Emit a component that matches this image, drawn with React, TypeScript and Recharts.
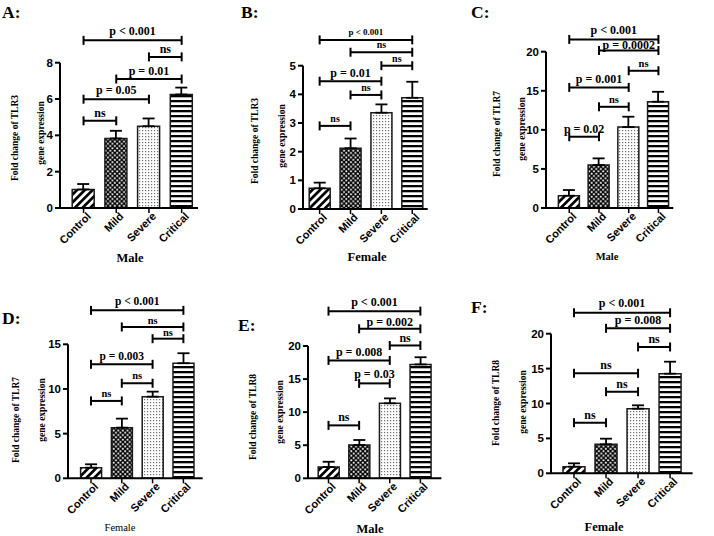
import React from 'react';
import { BarChart, Bar, XAxis, YAxis, Cell, ErrorBar, ReferenceLine } from 'recharts';

const SANS = "'Liberation Sans', Arial, sans-serif";
const SERIF = "'Liberation Serif', 'Times New Roman', serif";

// ---------- data ----------
const categories = ['Control', 'Mild', 'Severe', 'Critical'];

const tlr3MaleMean = [1.02, 3.83, 4.5, 6.25];
const tlr3MaleSem = [0.3, 0.42, 0.43, 0.38];
const tlr3FemaleMean = [0.72, 2.12, 3.36, 3.88];
const tlr3FemaleSem = [0.2, 0.34, 0.29, 0.56];
const tlr7MaleMean = [1.57, 5.5, 10.36, 13.6];
const tlr7MaleSem = [0.73, 0.85, 1.32, 1.27];
const tlr7FemaleMean = [1.19, 5.67, 9.14, 12.88];
const tlr7FemaleSem = [0.38, 1.01, 0.56, 1.12];
const tlr8MaleMean = [1.7, 5.03, 11.33, 17.22];
const tlr8MaleSem = [0.8, 0.76, 0.75, 1.08];
const tlr8FemaleMean = [0.95, 4.15, 9.26, 14.27];
const tlr8FemaleSem = [0.48, 0.81, 0.48, 1.72];

const ticks8 = [0, 2, 4, 6, 8];
const ticks5 = [0, 1, 2, 3, 4, 5];
const ticks15 = [0, 5, 10, 15];
const ticks20 = [0, 5, 10, 15, 20];

type Bracket = { from: string; to: string; y: number; label: string };

const bracketsA: Bracket[] = [
  { from: 'Control', to: 'Critical', y: 9.23, label: 'p < 0.001' },
  { from: 'Severe', to: 'Critical', y: 8.32, label: 'ns' },
  { from: 'Mild', to: 'Critical', y: 7.1, label: 'p = 0.01' },
  { from: 'Control', to: 'Severe', y: 5.99, label: 'p = 0.05' },
  { from: 'Control', to: 'Mild', y: 4.8, label: 'ns' },
];
const bracketsB: Bracket[] = [
  { from: 'Control', to: 'Critical', y: 5.9, label: 'p < 0.001' },
  { from: 'Mild', to: 'Critical', y: 5.47, label: 'ns' },
  { from: 'Severe', to: 'Critical', y: 5.0, label: 'ns' },
  { from: 'Control', to: 'Severe', y: 4.46, label: 'p = 0.01' },
  { from: 'Mild', to: 'Severe', y: 3.98, label: 'ns' },
  { from: 'Control', to: 'Mild', y: 2.9, label: 'ns' },
];
const bracketsC: Bracket[] = [
  { from: 'Control', to: 'Critical', y: 21.57, label: 'p < 0.001' },
  { from: 'Mild', to: 'Critical', y: 20.15, label: 'p = 0.0002' },
  { from: 'Severe', to: 'Critical', y: 17.56, label: 'ns' },
  { from: 'Control', to: 'Severe', y: 15.43, label: 'p = 0.001' },
  { from: 'Mild', to: 'Severe', y: 12.95, label: 'ns' },
  { from: 'Control', to: 'Mild', y: 9.12, label: 'p = 0.02' },
];
const bracketsD: Bracket[] = [
  { from: 'Control', to: 'Critical', y: 18.8, label: 'p < 0.001' },
  { from: 'Mild', to: 'Critical', y: 16.94, label: 'ns' },
  { from: 'Severe', to: 'Critical', y: 15.63, label: 'ns' },
  { from: 'Control', to: 'Severe', y: 12.76, label: 'p = 0.003' },
  { from: 'Mild', to: 'Severe', y: 10.64, label: 'ns' },
  { from: 'Control', to: 'Mild', y: 8.66, label: 'ns' },
];
const bracketsE: Bracket[] = [
  { from: 'Control', to: 'Critical', y: 25.27, label: 'p < 0.001' },
  { from: 'Mild', to: 'Critical', y: 22.6, label: 'p = 0.002' },
  { from: 'Severe', to: 'Critical', y: 20.08, label: 'ns' },
  { from: 'Control', to: 'Severe', y: 17.82, label: 'p = 0.008' },
  { from: 'Mild', to: 'Severe', y: 14.35, label: 'p = 0.03' },
  { from: 'Control', to: 'Mild', y: 8.0, label: 'ns' },
];
const bracketsF: Bracket[] = [
  { from: 'Control', to: 'Critical', y: 23.0, label: 'p < 0.001' },
  { from: 'Mild', to: 'Critical', y: 20.77, label: 'p = 0.008' },
  { from: 'Severe', to: 'Critical', y: 18.1, label: 'ns' },
  { from: 'Control', to: 'Severe', y: 14.33, label: 'ns' },
  { from: 'Mild', to: 'Severe', y: 11.69, label: 'ns' },
  { from: 'Control', to: 'Mild', y: 7.25, label: 'ns' },
];

// ---------- styles / layout ----------
const fills = ['url(#pDiag)', 'url(#pCheck)', 'url(#pDots)', 'url(#pHStripe)'];

type Geom = {
  boxTop: number; plotLeft: number; plotRight: number; plotTop: number; plotBottom: number;
  padL: number; padR: number; barSize: number;
};

type PanelCfg = {
  letter: string; letterX: number; letterY: number;
  gene: string; sex: string;
  means: number[]; sems: number[]; brackets: Bracket[];
  yMax: number; yTicks: number[];
  geom: Geom;
  labelSizes: number[]; labelOffsets: number[];
  yl1: [number, number]; yl2: [number, number];
  title: [number, number]; titleSize: number; titleBold: boolean;
};

const panels: PanelCfg[] = [
  {
    letter: 'A:', letterX: 2, letterY: 18, gene: 'TLR3', sex: 'Male',
    means: tlr3MaleMean, sems: tlr3MaleSem, brackets: bracketsA, yMax: 8, yTicks: ticks8,
    geom: { boxTop: 0, plotLeft: 60, plotRight: 198, plotTop: 62.7, plotBottom: 208, padL: 7.2, padR: 0, barSize: 22 },
    labelSizes: [12, 12, 12, 12, 12], labelOffsets: [5, 4, 4, 5, 4],
    yl1: [15, 138], yl2: [41, 133], title: [130, 262], titleSize: 12.5, titleBold: true,
  },
  {
    letter: 'B:', letterX: 241, letterY: 18, gene: 'TLR3', sex: 'Female',
    means: tlr3FemaleMean, sems: tlr3FemaleSem, brackets: bracketsB, yMax: 5, yTicks: ticks5,
    geom: { boxTop: 0, plotLeft: 303.3, plotRight: 428, plotTop: 65.7, plotBottom: 209, padL: 1.2, padR: 0, barSize: 21 },
    labelSizes: [9, 10, 10, 12, 10, 10], labelOffsets: [5, 4, 4, 4, 4, 4],
    yl1: [255, 141], yl2: [282, 136], title: [367, 261], titleSize: 12.5, titleBold: true,
  },
  {
    letter: 'C:', letterX: 471, letterY: 18, gene: 'TLR7', sex: 'Male',
    means: tlr7MaleMean, sems: tlr7MaleSem, brackets: bracketsC, yMax: 20, yTicks: ticks20,
    geom: { boxTop: 0, plotLeft: 545.7, plotRight: 673, plotTop: 51.7, plotBottom: 208, padL: 8.4, padR: 0, barSize: 21 },
    labelSizes: [12, 12, 10.5, 12, 10.5, 12], labelOffsets: [5, 1.5, 4, 4.5, 4, 4],
    yl1: [497, 134], yl2: [522, 129], title: [607, 260], titleSize: 10.5, titleBold: true,
  },
  {
    letter: 'D:', letterX: 2, letterY: 324, gene: 'TLR7', sex: 'Female',
    means: tlr7FemaleMean, sems: tlr7FemaleSem, brackets: bracketsD, yMax: 15, yTicks: ticks15,
    geom: { boxTop: 266, plotLeft: 68.3, plotRight: 203, plotTop: 344.3, plotBottom: 478.3, padL: 7.6, padR: 3.9, barSize: 21 },
    labelSizes: [11.5, 10.5, 10.5, 11.5, 10.5, 10.5], labelOffsets: [5, 3, 3, 4, 4, 4],
    yl1: [16, 420], yl2: [42, 410], title: [120, 531], titleSize: 10.5, titleBold: false,
  },
  {
    letter: 'E:', letterX: 238, letterY: 331, gene: 'TLR8', sex: 'Male',
    means: tlr8MaleMean, sems: tlr8MaleSem, brackets: bracketsE, yMax: 20, yTicks: ticks20,
    geom: { boxTop: 266, plotLeft: 308.3, plotRight: 441.7, plotTop: 346, plotBottom: 478.3, padL: 5.2, padR: 5.7, barSize: 21 },
    labelSizes: [12, 12, 12, 12, 12, 12], labelOffsets: [5, 2.5, 3, 4, 5, 4],
    yl1: [253, 417], yl2: [280, 412], title: [370, 533], titleSize: 12.5, titleBold: true,
  },
  {
    letter: 'F:', letterX: 471, letterY: 313, gene: 'TLR8', sex: 'Female',
    means: tlr8FemaleMean, sems: tlr8FemaleSem, brackets: bracketsF, yMax: 20, yTicks: ticks20,
    geom: { boxTop: 266, plotLeft: 550.7, plotRight: 692.3, plotTop: 333.7, plotBottom: 473.3, padL: 7, padR: 6.5, barSize: 22 },
    labelSizes: [12, 12, 12, 12, 12, 12], labelOffsets: [6, 4, 4, 4, 4, 4],
    yl1: [496, 403], yl2: [523, 402], title: [604, 531], titleSize: 12.5, titleBold: true,
  },
];

const Y_AXIS_W = 36;
const X_AXIS_H = 56;

const XTick = (props: any) => {
  const { x, y, payload } = props;
  return (
    <text
      transform={`translate(${x + 8},${y + 2}) rotate(-45)`}
      textAnchor="end"
      fontSize={11}
      fontWeight="bold"
      fontFamily={SANS}
      fill="#000"
    >
      {payload.value}
    </text>
  );
};

const YTick = (props: any) => {
  const { x, y, payload } = props;
  return (
    <text
      x={x}
      y={y}
      dy="0.35em"
      textAnchor="end"
      fontSize={11.5}
      fontWeight="bold"
      fontFamily={SANS}
      fill="#000"
    >
      {payload.value}
    </text>
  );
};

function Panel({ cfg }: { cfg: PanelCfg }) {
  const g = cfg.geom;
  const boxLeft = g.plotLeft - Y_AXIS_W;
  const width = g.plotRight - boxLeft + 8;
  const height = g.plotBottom - g.boxTop + X_AXIS_H;
  const data = categories.map((c, i) => ({ name: c, mean: cfg.means[i], err: [0, cfg.sems[i]] }));
  const pxPerUnit = (g.plotBottom - g.plotTop) / cfg.yMax;
  const cap = 4.5 / pxPerUnit;
  const lineStyle = { stroke: '#000', strokeWidth: 2 };
  return (
    <div style={{ position: 'absolute', left: boxLeft, top: g.boxTop }}>
      <BarChart
        width={width}
        height={height}
        data={data}
        margin={{ top: g.plotTop - g.boxTop, right: 8, bottom: 0, left: 0 }}
        barSize={g.barSize}
      >
        <XAxis
          dataKey="name"
          height={X_AXIS_H}
          padding={{ left: g.padL, right: g.padR }}
          axisLine={{ stroke: '#000', strokeWidth: 2 }}
          tickLine={{ stroke: '#000', strokeWidth: 1.5 }}
          tickSize={5}
          interval={0}
          tick={<XTick />}
        />
        <YAxis
          width={Y_AXIS_W}
          type="number"
          domain={[0, cfg.yMax]}
          ticks={cfg.yTicks}
          allowDataOverflow
          axisLine={{ stroke: '#000', strokeWidth: 2 }}
          tickLine={{ stroke: '#000', strokeWidth: 2 }}
          tickSize={5}
          tick={<YTick />}
        />
        <Bar dataKey="mean" isAnimationActive={false} stroke="#1a1a1a" strokeWidth={1.5}>
          {data.map((d, i) => (
            <Cell key={d.name} fill={fills[i]} />
          ))}
          <ErrorBar dataKey="err" direction="y" width={6} stroke="#000" strokeWidth={1.8} isAnimationActive={false} />
        </Bar>
        {cfg.brackets.flatMap((b, i) => [
          <ReferenceLine
            key={`h${i}`}
            segment={[{ x: b.from, y: b.y }, { x: b.to, y: b.y }]}
            {...lineStyle}
            ifOverflow="visible"
            label={{
              value: b.label,
              position: 'top',
              offset: cfg.labelOffsets[i],
              fill: '#000',
              fontSize: cfg.labelSizes[i],
              fontWeight: 'bold',
              fontFamily: SERIF,
            }}
          />,
          <ReferenceLine
            key={`l${i}`}
            segment={[{ x: b.from, y: b.y - cap }, { x: b.from, y: b.y + cap }]}
            {...lineStyle}
            ifOverflow="visible"
          />,
          <ReferenceLine
            key={`r${i}`}
            segment={[{ x: b.to, y: b.y - cap }, { x: b.to, y: b.y + cap }]}
            {...lineStyle}
            ifOverflow="visible"
          />,
        ])}
      </BarChart>
    </div>
  );
}

function Texts() {
  return (
    <svg width={714} height={536} style={{ position: 'absolute', left: 0, top: 0, pointerEvents: 'none' }}>
      {panels.map((p) => (
        <g key={p.letter}>
          <text x={p.letterX} y={p.letterY} fontFamily={SERIF} fontWeight="bold" fontSize={17.5} fill="#000">
            {p.letter}
          </text>
          <text
            transform={`translate(${p.yl1[0]},${p.yl1[1]}) rotate(-90)`}
            textAnchor="middle"
            dominantBaseline="central"
            fontFamily={SERIF}
            fontWeight="bold"
            fontSize={9.5}
            fill="#000"
          >
            {`Fold change of ${p.gene}`}
          </text>
          <text
            transform={`translate(${p.yl2[0]},${p.yl2[1]}) rotate(-90)`}
            textAnchor="middle"
            dominantBaseline="central"
            fontFamily={SERIF}
            fontWeight="bold"
            fontSize={9.5}
            fill="#000"
          >
            gene expression
          </text>
          <text
            x={p.title[0]}
            y={p.title[1]}
            textAnchor="middle"
            fontFamily={SERIF}
            fontWeight={p.titleBold ? 'bold' : 'normal'}
            fontSize={p.titleSize}
            fill="#000"
          >
            {p.sex}
          </text>
        </g>
      ))}
    </svg>
  );
}

export default function App() {
  return (
    <div style={{ position: 'absolute', left: 0, top: 0, width: 714, height: 536, background: '#fff', overflow: 'hidden' }}>
      <svg width={0} height={0} style={{ position: 'absolute' }}>
        <defs>
          <pattern id="pDiag" patternUnits="userSpaceOnUse" width={5.5} height={5.5} patternTransform="rotate(45)">
            <rect width={5.5} height={5.5} fill="#fff" />
            <rect width={2.7} height={5.5} fill="#000" />
          </pattern>
          <pattern id="pCheck" patternUnits="userSpaceOnUse" width={4.6} height={4.6}>
            <rect width={4.6} height={4.6} fill="#000" />
            <rect x={0.25} y={0.25} width={1.8} height={1.8} fill="#fff" />
            <rect x={2.55} y={2.55} width={1.8} height={1.8} fill="#fff" />
          </pattern>
          <pattern id="pDots" patternUnits="userSpaceOnUse" width={3} height={3}>
            <rect width={3} height={3} fill="#fff" />
            <rect x={1} y={1} width={1.2} height={1.2} fill="#6e6e6e" />
          </pattern>
          <pattern id="pHStripe" patternUnits="userSpaceOnUse" width={5} height={5}>
            <rect width={5} height={5} fill="#fff" />
            <rect y={0} width={5} height={2.3} fill="#000" />
          </pattern>
        </defs>
      </svg>
      {panels.map((p) => (
        <Panel key={p.letter} cfg={p} />
      ))}
      <Texts />
    </div>
  );
}
